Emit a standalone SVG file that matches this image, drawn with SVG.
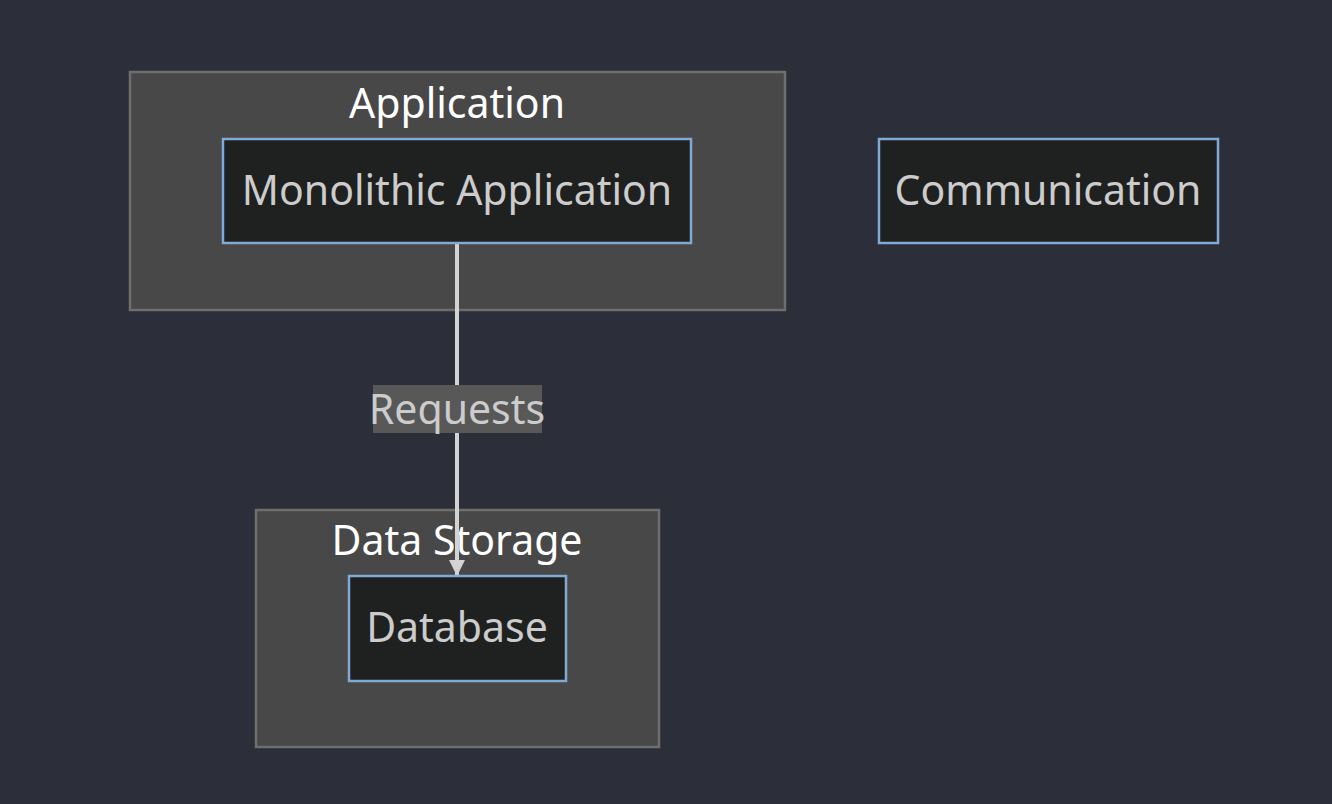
<svg xmlns="http://www.w3.org/2000/svg" width="1332" height="804" viewBox="0 0 1332 804">
<defs>
<style>
.cluster rect{fill:#484848;stroke:#6e6e6e;stroke-width:2.5}
.ctitle{fill:#ffffff;font-family:"Noto Sans","DejaVu Sans",sans-serif;font-size:41px;font-weight:normal;text-anchor:middle}
.node rect{fill:#1f2020;stroke:#81a9d6;stroke-width:2.5}
.ntext{fill:#cccccc;font-family:"Noto Sans","DejaVu Sans",sans-serif;font-size:41px;text-anchor:middle}
.edge{stroke:#d3d3d3;stroke-width:4;fill:none}
.elabel rect{fill:#585858}
</style>
<marker id="arrow" viewBox="0 0 10 10" refX="10" refY="5" markerWidth="4" markerHeight="4" markerUnits="strokeWidth" orient="auto">
<path d="M0,0 L10,5 L0,10 z" fill="#d3d3d3"/>
</marker>
</defs>
<rect x="0" y="0" width="1332" height="804" fill="#2c2f3a"/>
<g id="cluster-application" class="cluster">
<rect x="130" y="72" width="655" height="238"/>
<text class="ctitle" x="457" y="118">Application</text>
</g>
<g id="cluster-datastorage" class="cluster">
<rect x="256" y="510" width="403" height="237"/>
<text class="ctitle" x="457" y="555">Data Storage</text>
</g>
<g id="connectors">
<path class="edge" d="M457,244 L457,576" marker-end="url(#arrow)"/>
<g class="elabel">
<rect x="373" y="385" width="169" height="48"/>
<text class="ntext" x="457" y="424">Requests</text>
</g>
</g>
<g id="node-monolithic" class="node">
<rect x="223" y="139" width="468" height="104"/>
<text class="ntext" x="457" y="205">Monolithic Application</text>
</g>
<g id="node-communication" class="node">
<rect x="879" y="139" width="339" height="104"/>
<text class="ntext" x="1048" y="205">Communication</text>
</g>
<g id="node-database" class="node">
<rect x="349" y="576" width="217" height="105"/>
<text class="ntext" x="457" y="642">Database</text>
</g>
</svg>
